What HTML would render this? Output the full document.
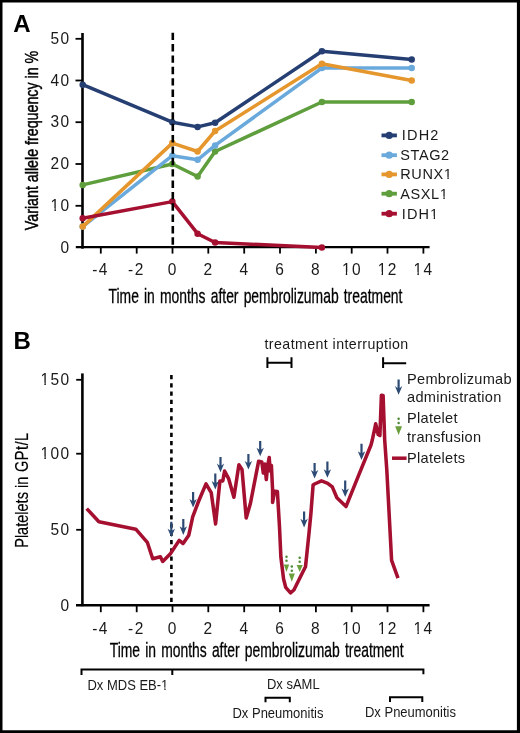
<!DOCTYPE html>
<html><head><meta charset="utf-8"><style>
html,body{margin:0;padding:0;background:#fff;}
svg{display:block;font-family:"Liberation Sans", sans-serif;will-change:transform;}
</style></head><body>
<svg width="520" height="733" viewBox="0 0 520 733">
<path d="M0 0H520V733H0Z M2.5 2.6V730.2H516.9V2.6Z" fill="#000" fill-rule="evenodd"/>
<text x="13.3" y="31.6" font-size="24" font-weight="bold" fill="#000">A</text>
<line x1="82.5" y1="33" x2="82.5" y2="248.7" stroke="#000" stroke-width="2.6"/>
<line x1="75.8" y1="247.1" x2="429.6" y2="247.1" stroke="#000" stroke-width="2.4"/>
<line x1="75.5" y1="205.8" x2="82.5" y2="205.8" stroke="#000" stroke-width="1.8"/>
<line x1="75.5" y1="164.0" x2="82.5" y2="164.0" stroke="#000" stroke-width="1.8"/>
<line x1="75.5" y1="122.2" x2="82.5" y2="122.2" stroke="#000" stroke-width="1.8"/>
<line x1="75.5" y1="80.5" x2="82.5" y2="80.5" stroke="#000" stroke-width="1.8"/>
<line x1="75.5" y1="38.8" x2="82.5" y2="38.8" stroke="#000" stroke-width="1.8"/>
<g transform="translate(70.60,252.50) scale(1.0,1.12)"><text x="-10.02" y="0" font-size="15.5" letter-spacing="1.4" fill="#1a1a1a">0</text></g>
<g transform="translate(70.60,210.75) scale(1.0,1.12)"><text x="-20.04" y="0" font-size="15.5" letter-spacing="1.4" fill="#1a1a1a">10</text><rect x="-20.06" y="-2.46" width="3.87" height="3.16" fill="#fff"/><rect x="-14.72" y="-2.46" width="3.70" height="3.16" fill="#fff"/></g>
<g transform="translate(70.60,169.00) scale(1.0,1.12)"><text x="-20.04" y="0" font-size="15.5" letter-spacing="1.4" fill="#1a1a1a">20</text></g>
<g transform="translate(70.60,127.25) scale(1.0,1.12)"><text x="-20.04" y="0" font-size="15.5" letter-spacing="1.4" fill="#1a1a1a">30</text></g>
<g transform="translate(70.60,85.50) scale(1.0,1.12)"><text x="-20.04" y="0" font-size="15.5" letter-spacing="1.4" fill="#1a1a1a">40</text></g>
<g transform="translate(70.60,43.75) scale(1.0,1.12)"><text x="-20.04" y="0" font-size="15.5" letter-spacing="1.4" fill="#1a1a1a">50</text></g>
<line x1="100.8" y1="247.5" x2="100.8" y2="253.6" stroke="#000" stroke-width="1.8"/>
<g transform="translate(100.52,274.60) scale(1.0,1.12)"><text x="-8.29" y="0" font-size="15.5" letter-spacing="1.4" fill="#1a1a1a">-4</text></g>
<line x1="136.7" y1="247.5" x2="136.7" y2="253.6" stroke="#000" stroke-width="1.8"/>
<g transform="translate(136.36,274.60) scale(1.0,1.12)"><text x="-8.29" y="0" font-size="15.5" letter-spacing="1.4" fill="#1a1a1a">-2</text></g>
<line x1="172.5" y1="247.5" x2="172.5" y2="253.6" stroke="#000" stroke-width="1.8"/>
<g transform="translate(172.70,274.60) scale(1.0,1.12)"><text x="-5.01" y="0" font-size="15.5" letter-spacing="1.4" fill="#1a1a1a">0</text></g>
<line x1="208.3" y1="247.5" x2="208.3" y2="253.6" stroke="#000" stroke-width="1.8"/>
<g transform="translate(208.54,274.60) scale(1.0,1.12)"><text x="-5.01" y="0" font-size="15.5" letter-spacing="1.4" fill="#1a1a1a">2</text></g>
<line x1="244.2" y1="247.5" x2="244.2" y2="253.6" stroke="#000" stroke-width="1.8"/>
<g transform="translate(244.38,274.60) scale(1.0,1.12)"><text x="-5.01" y="0" font-size="15.5" letter-spacing="1.4" fill="#1a1a1a">4</text></g>
<line x1="280.0" y1="247.5" x2="280.0" y2="253.6" stroke="#000" stroke-width="1.8"/>
<g transform="translate(280.22,274.60) scale(1.0,1.12)"><text x="-5.01" y="0" font-size="15.5" letter-spacing="1.4" fill="#1a1a1a">6</text></g>
<line x1="315.9" y1="247.5" x2="315.9" y2="253.6" stroke="#000" stroke-width="1.8"/>
<g transform="translate(316.06,274.60) scale(1.0,1.12)"><text x="-5.01" y="0" font-size="15.5" letter-spacing="1.4" fill="#1a1a1a">8</text></g>
<line x1="351.7" y1="247.5" x2="351.7" y2="253.6" stroke="#000" stroke-width="1.8"/>
<g transform="translate(351.90,274.60) scale(1.0,1.12)"><text x="-10.02" y="0" font-size="15.5" letter-spacing="1.4" fill="#1a1a1a">10</text><rect x="-10.04" y="-2.46" width="3.87" height="3.16" fill="#fff"/><rect x="-4.70" y="-2.46" width="3.70" height="3.16" fill="#fff"/></g>
<line x1="387.5" y1="247.5" x2="387.5" y2="253.6" stroke="#000" stroke-width="1.8"/>
<g transform="translate(387.74,274.60) scale(1.0,1.12)"><text x="-10.02" y="0" font-size="15.5" letter-spacing="1.4" fill="#1a1a1a">12</text><rect x="-10.04" y="-2.46" width="3.87" height="3.16" fill="#fff"/><rect x="-4.70" y="-2.46" width="3.70" height="3.16" fill="#fff"/></g>
<line x1="423.4" y1="247.5" x2="423.4" y2="253.6" stroke="#000" stroke-width="1.8"/>
<g transform="translate(423.58,274.60) scale(1.0,1.12)"><text x="-10.02" y="0" font-size="15.5" letter-spacing="1.4" fill="#1a1a1a">14</text><rect x="-10.04" y="-2.46" width="3.87" height="3.16" fill="#fff"/><rect x="-4.70" y="-2.46" width="3.70" height="3.16" fill="#fff"/></g>
<text transform="translate(37.6,230.2) rotate(-90) scale(0.75,1)" font-size="19" fill="#000" stroke="#000" stroke-width="0.45">Variant allele frequency in %</text>
<text transform="translate(108.5,302.7) scale(0.717,1)" font-size="19.4" word-spacing="1.8" fill="#000" stroke="#000" stroke-width="0.3">Time in months after pembrolizumab treatment</text>
<polyline points="82.7,84.7 172.3,122.2 197.6,126.9 215.1,122.8 321.9,51.3 411.7,59.6" fill="none" stroke="#263f73" stroke-width="3.5" stroke-linejoin="round"/>
<circle cx="82.7" cy="84.7" r="3.25" fill="#263f73"/>
<circle cx="172.3" cy="122.2" r="3.25" fill="#263f73"/>
<circle cx="197.6" cy="126.9" r="3.25" fill="#263f73"/>
<circle cx="215.1" cy="122.8" r="3.25" fill="#263f73"/>
<circle cx="321.9" cy="51.3" r="3.25" fill="#263f73"/>
<circle cx="411.7" cy="59.6" r="3.25" fill="#263f73"/>
<polyline points="82.7,184.9 172.3,164.0 197.6,176.5 215.1,151.5 321.9,102.0 411.7,102.0" fill="none" stroke="#5f9e3d" stroke-width="3.5" stroke-linejoin="round"/>
<circle cx="82.7" cy="184.9" r="3.25" fill="#5f9e3d"/>
<circle cx="172.3" cy="164.0" r="3.25" fill="#5f9e3d"/>
<circle cx="197.6" cy="176.5" r="3.25" fill="#5f9e3d"/>
<circle cx="215.1" cy="151.5" r="3.25" fill="#5f9e3d"/>
<circle cx="321.9" cy="102.0" r="3.25" fill="#5f9e3d"/>
<circle cx="411.7" cy="102.0" r="3.25" fill="#5f9e3d"/>
<polyline points="82.7,226.6 172.3,155.7 197.6,159.8 215.1,145.4 321.9,68.0 411.7,68.0" fill="none" stroke="#6aa9dc" stroke-width="3.5" stroke-linejoin="round"/>
<circle cx="82.7" cy="226.6" r="3.25" fill="#6aa9dc"/>
<circle cx="172.3" cy="155.7" r="3.25" fill="#6aa9dc"/>
<circle cx="197.6" cy="159.8" r="3.25" fill="#6aa9dc"/>
<circle cx="215.1" cy="145.4" r="3.25" fill="#6aa9dc"/>
<circle cx="321.9" cy="68.0" r="3.25" fill="#6aa9dc"/>
<circle cx="411.7" cy="68.0" r="3.25" fill="#6aa9dc"/>
<polyline points="82.7,226.6 172.3,143.1 197.6,151.5 215.1,131.0 321.9,63.8 411.7,80.5" fill="none" stroke="#e5962c" stroke-width="3.5" stroke-linejoin="round"/>
<circle cx="82.7" cy="226.6" r="3.25" fill="#e5962c"/>
<circle cx="172.3" cy="143.1" r="3.25" fill="#e5962c"/>
<circle cx="197.6" cy="151.5" r="3.25" fill="#e5962c"/>
<circle cx="215.1" cy="131.0" r="3.25" fill="#e5962c"/>
<circle cx="321.9" cy="63.8" r="3.25" fill="#e5962c"/>
<circle cx="411.7" cy="80.5" r="3.25" fill="#e5962c"/>
<polyline points="82.7,218.3 172.3,201.6 197.6,233.7 215.1,242.5 321.9,247.5" fill="none" stroke="#a50f30" stroke-width="3.5" stroke-linejoin="round"/>
<circle cx="82.7" cy="218.3" r="3.25" fill="#a50f30"/>
<circle cx="172.3" cy="201.6" r="3.25" fill="#a50f30"/>
<circle cx="197.6" cy="233.7" r="3.25" fill="#a50f30"/>
<circle cx="215.1" cy="242.5" r="3.25" fill="#a50f30"/>
<circle cx="321.9" cy="247.5" r="3.25" fill="#a50f30"/>
<line x1="172.8" y1="32.7" x2="172.8" y2="247" stroke="#000" stroke-width="2.6" stroke-dasharray="7.4 3.97"/>
<line x1="381.5" y1="135.4" x2="396.9" y2="135.4" stroke="#263f73" stroke-width="3.8"/>
<circle cx="389.2" cy="135.4" r="3.6" fill="#263f73"/>
<g transform="translate(401.80,140.40)"><text x="0.00" y="0" font-size="14.5" letter-spacing="1.2" fill="#1a1a1a">IDH2</text></g>
<line x1="381.5" y1="155.2" x2="396.9" y2="155.2" stroke="#6aa9dc" stroke-width="3.8"/>
<circle cx="389.2" cy="155.2" r="3.6" fill="#6aa9dc"/>
<g transform="translate(400.30,160.20)"><text x="0.00" y="0" font-size="14.5" letter-spacing="0.6" fill="#1a1a1a">STAG2</text></g>
<line x1="381.5" y1="174.4" x2="396.9" y2="174.4" stroke="#e5962c" stroke-width="3.8"/>
<circle cx="389.2" cy="174.4" r="3.6" fill="#e5962c"/>
<g transform="translate(400.30,179.40)"><text x="0.00" y="0" font-size="14.5" letter-spacing="0.6" fill="#1a1a1a">RUNX1</text><rect x="43.39" y="-2.38" width="3.69" height="3.08" fill="#fff"/><rect x="48.46" y="-2.38" width="3.53" height="3.08" fill="#fff"/></g>
<line x1="381.5" y1="193.7" x2="396.9" y2="193.7" stroke="#5f9e3d" stroke-width="3.8"/>
<circle cx="389.2" cy="193.7" r="3.6" fill="#5f9e3d"/>
<g transform="translate(400.30,198.70)"><text x="0.00" y="0" font-size="14.5" letter-spacing="0.6" fill="#1a1a1a">ASXL1</text><rect x="39.38" y="-2.38" width="3.69" height="3.08" fill="#fff"/><rect x="44.46" y="-2.38" width="3.53" height="3.08" fill="#fff"/></g>
<line x1="381.5" y1="213.7" x2="396.9" y2="213.7" stroke="#a50f30" stroke-width="3.8"/>
<circle cx="389.2" cy="213.7" r="3.6" fill="#a50f30"/>
<g transform="translate(401.80,218.70)"><text x="0.00" y="0" font-size="14.5" letter-spacing="1.1" fill="#1a1a1a">IDH1</text><rect x="28.18" y="-2.38" width="3.69" height="3.08" fill="#fff"/><rect x="33.25" y="-2.38" width="3.53" height="3.08" fill="#fff"/></g>
<text x="13.6" y="348.5" font-size="24" font-weight="bold" fill="#000">B</text>
<line x1="82.4" y1="373.4" x2="82.4" y2="606.2" stroke="#000" stroke-width="2.6"/>
<line x1="76" y1="605.3" x2="429.6" y2="605.3" stroke="#000" stroke-width="2.4"/>
<g transform="translate(70.60,610.60) scale(1.0,1.12)"><text x="-10.02" y="0" font-size="15.5" letter-spacing="1.4" fill="#1a1a1a">0</text></g>
<line x1="76.2" y1="529.8" x2="82.4" y2="529.8" stroke="#000" stroke-width="1.8"/>
<g transform="translate(70.60,535.40) scale(1.0,1.12)"><text x="-20.04" y="0" font-size="15.5" letter-spacing="1.4" fill="#1a1a1a">50</text></g>
<line x1="76.2" y1="453.7" x2="82.4" y2="453.7" stroke="#000" stroke-width="1.8"/>
<g transform="translate(70.60,459.30) scale(1.0,1.12)"><text x="-30.06" y="0" font-size="15.5" letter-spacing="1.4" fill="#1a1a1a">100</text><rect x="-30.08" y="-2.46" width="3.87" height="3.16" fill="#fff"/><rect x="-24.74" y="-2.46" width="3.70" height="3.16" fill="#fff"/></g>
<line x1="76.2" y1="379.8" x2="82.4" y2="379.8" stroke="#000" stroke-width="1.8"/>
<g transform="translate(70.60,385.40) scale(1.0,1.12)"><text x="-30.06" y="0" font-size="15.5" letter-spacing="1.4" fill="#1a1a1a">150</text><rect x="-30.08" y="-2.46" width="3.87" height="3.16" fill="#fff"/><rect x="-24.74" y="-2.46" width="3.70" height="3.16" fill="#fff"/></g>
<line x1="100.8" y1="605.3" x2="100.8" y2="612.2" stroke="#000" stroke-width="1.8"/>
<g transform="translate(100.52,633.50) scale(1.0,1.12)"><text x="-8.29" y="0" font-size="15.5" letter-spacing="1.4" fill="#1a1a1a">-4</text></g>
<line x1="136.7" y1="605.3" x2="136.7" y2="612.2" stroke="#000" stroke-width="1.8"/>
<g transform="translate(136.36,633.50) scale(1.0,1.12)"><text x="-8.29" y="0" font-size="15.5" letter-spacing="1.4" fill="#1a1a1a">-2</text></g>
<line x1="172.5" y1="605.3" x2="172.5" y2="612.2" stroke="#000" stroke-width="1.8"/>
<g transform="translate(172.70,633.50) scale(1.0,1.12)"><text x="-5.01" y="0" font-size="15.5" letter-spacing="1.4" fill="#1a1a1a">0</text></g>
<line x1="208.3" y1="605.3" x2="208.3" y2="612.2" stroke="#000" stroke-width="1.8"/>
<g transform="translate(208.54,633.50) scale(1.0,1.12)"><text x="-5.01" y="0" font-size="15.5" letter-spacing="1.4" fill="#1a1a1a">2</text></g>
<line x1="244.2" y1="605.3" x2="244.2" y2="612.2" stroke="#000" stroke-width="1.8"/>
<g transform="translate(244.38,633.50) scale(1.0,1.12)"><text x="-5.01" y="0" font-size="15.5" letter-spacing="1.4" fill="#1a1a1a">4</text></g>
<line x1="280.0" y1="605.3" x2="280.0" y2="612.2" stroke="#000" stroke-width="1.8"/>
<g transform="translate(280.22,633.50) scale(1.0,1.12)"><text x="-5.01" y="0" font-size="15.5" letter-spacing="1.4" fill="#1a1a1a">6</text></g>
<line x1="315.9" y1="605.3" x2="315.9" y2="612.2" stroke="#000" stroke-width="1.8"/>
<g transform="translate(316.06,633.50) scale(1.0,1.12)"><text x="-5.01" y="0" font-size="15.5" letter-spacing="1.4" fill="#1a1a1a">8</text></g>
<line x1="351.7" y1="605.3" x2="351.7" y2="612.2" stroke="#000" stroke-width="1.8"/>
<g transform="translate(351.90,633.50) scale(1.0,1.12)"><text x="-10.02" y="0" font-size="15.5" letter-spacing="1.4" fill="#1a1a1a">10</text><rect x="-10.04" y="-2.46" width="3.87" height="3.16" fill="#fff"/><rect x="-4.70" y="-2.46" width="3.70" height="3.16" fill="#fff"/></g>
<line x1="387.5" y1="605.3" x2="387.5" y2="612.2" stroke="#000" stroke-width="1.8"/>
<g transform="translate(387.74,633.50) scale(1.0,1.12)"><text x="-10.02" y="0" font-size="15.5" letter-spacing="1.4" fill="#1a1a1a">12</text><rect x="-10.04" y="-2.46" width="3.87" height="3.16" fill="#fff"/><rect x="-4.70" y="-2.46" width="3.70" height="3.16" fill="#fff"/></g>
<line x1="423.4" y1="605.3" x2="423.4" y2="612.2" stroke="#000" stroke-width="1.8"/>
<g transform="translate(423.58,633.50) scale(1.0,1.12)"><text x="-10.02" y="0" font-size="15.5" letter-spacing="1.4" fill="#1a1a1a">14</text><rect x="-10.04" y="-2.46" width="3.87" height="3.16" fill="#fff"/><rect x="-4.70" y="-2.46" width="3.70" height="3.16" fill="#fff"/></g>
<line x1="171.4" y1="374.9" x2="171.4" y2="605" stroke="#000" stroke-width="2.6" stroke-dasharray="4.3 3.95"/>
<text transform="translate(27.5,547.8) rotate(-90) scale(0.765,1)" font-size="19" fill="#000" stroke="#000" stroke-width="0.2">Platelets in <tspan dx="0.8" letter-spacing="0.7">GPt/L</tspan></text>
<text transform="translate(109.7,656.6) scale(0.717,1)" font-size="19.4" word-spacing="1.8" fill="#000" stroke="#000" stroke-width="0.3">Time in months after pembrolizumab treatment</text>
<g transform="translate(264.50,348.80)"><text x="0.00" y="0" font-size="14.2" letter-spacing="0.42" fill="#1a1a1a">treatment interruption</text></g>
<path d="M267.4 357.3V368.1M291.5 357.3V368.1M267.4 362.7H291.5" stroke="#000" stroke-width="2" fill="none"/>
<path d="M383.1 357.3V368.1M383.1 363.2H406.2" stroke="#000" stroke-width="2" fill="none"/>
<polyline points="86.7,508.6 98.9,521.8 135.8,529.2 147.3,542.3 152.7,558.7 160.4,556.7 162.7,561.5 170.4,553.8 179.2,540.4 183.1,543.5 188.8,535.2 192.7,516.9 198.5,501.5 206,483.9 211.2,492.6 215.6,523.9 219.9,481 222.8,481 224.6,471.1 228.6,478.6 233.9,497.2 238.9,464.7 242,469.4 246.2,517.9 250.4,503.5 258.6,461.3 261.8,462 263.3,473 264.8,464 266.3,479.5 267.6,466 269.2,457.5 270.2,471 271.4,465.5 272.6,490 272.6,502.5 274.6,491.2 277.4,491.5 279.5,527 280.9,557.3 283.6,579.1 285.7,587.3 290.5,592.8 293.9,590 302.7,572.3 305.5,566.8 308.9,534.1 310.9,513.6 313.1,485 314.6,484 321.5,480.9 327.7,483.3 332.3,486.9 336.9,497.7 340.8,501.5 346,506.6 358.2,476.4 371,445 372.3,440 375.7,423.8 378.2,434.5 379.9,435.5 381.4,395.3 383.1,395.5 384.7,440 386.8,470 391.6,560.4 398,578.2" fill="none" stroke="#a50f30" stroke-width="3.55" stroke-linejoin="round"/>
<path d="M170.20 521.80H172.40V530.50L175.00 528.70L171.30 537.30L167.60 528.70L170.20 530.50Z" fill="#2c4a74"/>
<path d="M182.20 519.10H184.40V528.10L187.00 526.30L183.30 534.90L179.60 526.30L182.20 528.10Z" fill="#2c4a74"/>
<path d="M192.00 492.00H194.20V500.80L196.80 499.00L193.10 507.60L189.40 499.00L192.00 500.80Z" fill="#2c4a74"/>
<path d="M214.20 473.40H216.40V482.80L219.00 481.00L215.30 489.60L211.60 481.00L214.20 482.80Z" fill="#2c4a74"/>
<path d="M219.40 457.10H221.60V465.40L224.20 463.60L220.50 472.20L216.80 463.60L219.40 465.40Z" fill="#2c4a74"/>
<path d="M247.30 454.00H249.50V462.70L252.10 460.90L248.40 469.50L244.70 460.90L247.30 462.70Z" fill="#2c4a74"/>
<path d="M259.10 440.90H261.30V449.50L263.90 447.70L260.20 456.30L256.50 447.70L259.10 449.50Z" fill="#2c4a74"/>
<path d="M303.00 511.60H305.20V520.60L307.80 518.80L304.10 527.40L300.40 518.80L303.00 520.60Z" fill="#2c4a74"/>
<path d="M313.50 463.10H315.70V471.80L318.30 470.00L314.60 478.60L310.90 470.00L313.50 471.80Z" fill="#2c4a74"/>
<path d="M326.30 461.50H328.50V471.00L331.10 469.20L327.40 477.80L323.70 469.20L326.30 471.00Z" fill="#2c4a74"/>
<path d="M344.10 480.50H346.30V490.20L348.90 488.40L345.20 497.00L341.50 488.40L344.10 490.20Z" fill="#2c4a74"/>
<path d="M360.40 443.70H362.60V453.10L365.20 451.30L361.50 459.90L357.80 451.30L360.40 453.10Z" fill="#2c4a74"/>
<circle cx="286.50" cy="556.70" r="1.25" fill="#4f8a3a"/><circle cx="286.50" cy="560.80" r="1.25" fill="#4f8a3a"/><path d="M283.80 564.40H289.20L286.50 572.10Z" fill="#6a9f3c"/>
<circle cx="291.80" cy="566.60" r="1.25" fill="#4f8a3a"/><circle cx="291.80" cy="570.70" r="1.25" fill="#4f8a3a"/><path d="M288.70 573.60H294.90L291.80 581.70Z" fill="#6a9f3c"/>
<circle cx="299.70" cy="557.70" r="1.25" fill="#4f8a3a"/><circle cx="299.70" cy="561.80" r="1.25" fill="#4f8a3a"/><path d="M296.65 564.90H302.75L299.70 572.10Z" fill="#6a9f3c"/>
<path d="M397.50 379.40H399.70V387.90L402.30 386.10L398.60 394.70L394.90 386.10L397.50 387.90Z" fill="#2c4a74"/>
<circle cx="398.60" cy="418.80" r="1.25" fill="#4f8a3a"/><circle cx="398.60" cy="422.90" r="1.25" fill="#4f8a3a"/><path d="M395.15 426.20H402.05L398.60 435.00Z" fill="#6a9f3c"/>
<line x1="392" y1="458.2" x2="406.6" y2="458.2" stroke="#a50f30" stroke-width="3.5"/>
<g transform="translate(407.00,383.60) scale(1.0,1.05)"><text x="0.00" y="0" font-size="14.6" letter-spacing="0.27" fill="#1a1a1a">Pembrolizumab</text></g>
<g transform="translate(407.00,402.00) scale(1.0,1.05)"><text x="0.00" y="0" font-size="14.6" letter-spacing="0.27" fill="#1a1a1a">administration</text></g>
<g transform="translate(407.00,422.80) scale(1.0,1.05)"><text x="0.00" y="0" font-size="14.6" letter-spacing="0.27" fill="#1a1a1a">Platelet</text></g>
<g transform="translate(407.00,441.80) scale(1.0,1.05)"><text x="0.00" y="0" font-size="14.6" letter-spacing="0.27" fill="#1a1a1a">transfusion</text></g>
<g transform="translate(407.00,462.80) scale(1.0,1.05)"><text x="0.00" y="0" font-size="14.6" letter-spacing="0.27" fill="#1a1a1a">Platelets</text></g>
<path d="M81.5 675.1V669.6H423.4V674.2M172.3 669.6V675" stroke="#000" stroke-width="2" fill="none"/>
<g transform="translate(87.50,689.50) scale(1.0,1.06)"><text x="0.00" y="0" font-size="13" fill="#1a1a1a">Dx MDS EB-1</text><rect x="73.46" y="-2.27" width="3.43" height="2.97" fill="#fff"/><rect x="78.14" y="-2.27" width="3.28" height="2.97" fill="#fff"/></g>
<g transform="translate(267.00,689.20) scale(1.0,1.06)"><text x="0.00" y="0" font-size="13" fill="#1a1a1a">Dx sAML</text></g>
<path d="M265.5 702.3V697.7H289.8V702.3" stroke="#000" stroke-width="2" fill="none"/>
<path d="M390 702V697.3H422.3V702" stroke="#000" stroke-width="2" fill="none"/>
<g transform="translate(232.50,717.50) scale(1.0,1.06)"><text x="0.00" y="0" font-size="13" fill="#1a1a1a">Dx Pneumonitis</text></g>
<g transform="translate(365.00,717.40) scale(1.0,1.06)"><text x="0.00" y="0" font-size="13" fill="#1a1a1a">Dx Pneumonitis</text></g>
</svg>
</body></html>
